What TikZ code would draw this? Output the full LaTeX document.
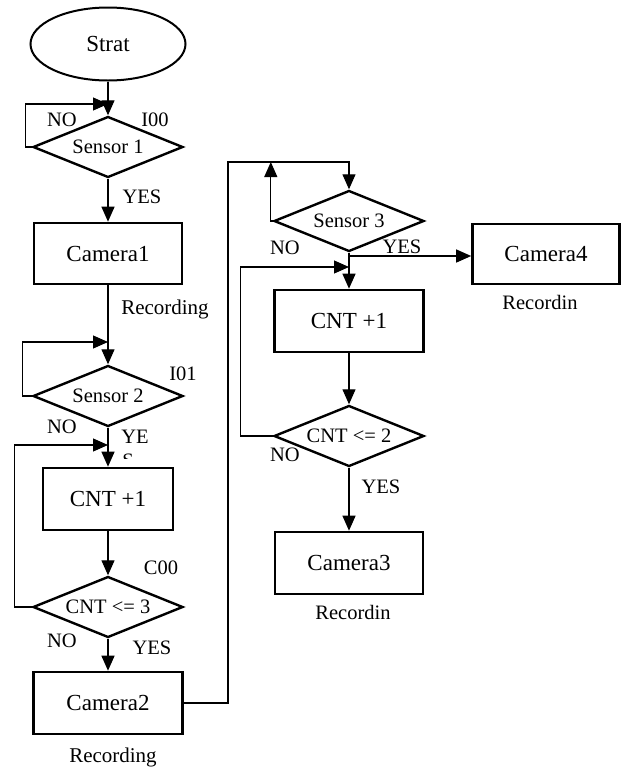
\documentclass[tikz,border=0pt]{standalone}
\usepackage{fontspec}
\setmainfont{Liberation Serif}
\usetikzlibrary{shapes.geometric,arrows.meta,calc}
\begin{document}
\begin{tikzpicture}[x=1pt,y=-1pt,
  arr/.style={line width=1.2pt,-{Triangle[length=15pt,width=13pt]}},
  conn/.style={line width=1.2pt},
  boxnode/.style={draw,line width=2.6pt,rectangle,inner sep=0pt,font=\fontsize{23}{27}\selectfont},
  decnode/.style={draw,line width=2.4pt,diamond,aspect=2.5,inner sep=0pt,minimum width=150pt,minimum height=61pt,font=\fontsize{20.5}{24}\selectfont},
  lbl/.style={inner sep=0pt,font=\fontsize{20.5}{24}\selectfont},
  bigl/.style={inner sep=0pt,font=\fontsize{21}{25}\selectfont}]
\useasboundingbox (0,0) rectangle (621,769);
% nodes
\node[draw,ellipse,line width=2pt,minimum width=155pt,minimum height=73pt,inner sep=0pt,font=\fontsize{23}{27}\selectfont] (start) at (108,44) {Strat};
\node[decnode] (s1) at (108,147) {Sensor 1};
\node[boxnode,minimum width=148pt,minimum height=61pt] (cam1) at (108,253.5) {Camera1};
\node[decnode] (s2) at (108,396) {Sensor 2};
\node[boxnode,minimum width=130pt,minimum height=62pt] (cnt1) at (108,499) {CNT +1};
\node[decnode] (c3) at (108,607) {CNT <= 3};
\node[boxnode,minimum width=149pt,minimum height=62pt] (cam2) at (108,703) {Camera2};
\node[decnode] (s3) at (349,221) {Sensor 3};
\node[boxnode,minimum width=149pt,minimum height=62pt] (cnt2) at (349,321) {CNT +1};
\node[decnode] (c2) at (349,436) {CNT <= 2};
\node[boxnode,minimum width=148pt,minimum height=62pt] (cam3) at (349,563) {Camera3};
\node[boxnode,minimum width=147pt,minimum height=60pt] (cam4) at (546,254) {Camera4};
% coordinates
\coordinate (j1) at (108,104);
\coordinate (j2) at (108,342);
\coordinate (j3) at (108,445);
\coordinate (v1) at (228,703);
\coordinate (top) at (349,162);
\coordinate (j4) at (349,256);
\coordinate (j5) at (349,267);
% connectors
\draw[arr] (start.south) -- (s1.north);
\draw[arr] (s1.west) -- ++(-6,0) |- (j1);
\draw[arr] (s1.south) -- (cam1.north);
\draw[arr] (cam1.south) -- (s2.north);
\draw[arr] (s2.west) -- ++(-9,0) |- (j2);
\draw[arr] (s2.south) -- (cnt1.north);
\draw[arr] (cnt1.south) -- (c3.north);
\draw[arr] (c3.west) -- ++(-17,0) |- (j3);
\draw[arr] (c3.south) -- (cam2.north);
\draw[arr] (cam2.east) -- (v1) |- (top) -- (s3.north);
\draw[arr] (s3.west) -- ++(-2,0) -- ($(s3.west |- top)+(-2,0)$);
\draw[arr] (s3.south) -- (cnt2.north);
\draw[arr] (j4) -- (j4 -| cam4.west);
\draw[arr] (cnt2.south) -- (c2.north);
\draw[arr] (c2.west) -- ++(-32,0) |- (j5);
\draw[arr] (c2.south) -- (cam3.north);
% labels
\node[lbl] (n1) at (62,120) {NO};
\node[lbl] (i00) at (155,120) {I00};
\node[lbl] (y1) at (142,197) {YES};
\node[bigl] (r1) at (165,309) {Recording};
\node[lbl] (i01) at (183,374) {I01};
\node[lbl] (n2) at (62,427) {NO};
\node[lbl] (y2) at (135,437) {YE};
\begin{scope}
\clip (120,440) rectangle (160,458);
\node[lbl] (y2s) at (128,461) {S};
\end{scope}
\node[lbl] (c00) at (161,568) {C00};
\node[lbl] (n3) at (62,641) {NO};
\node[lbl] (y3) at (152,648) {YES};
\node[bigl] (r2) at (113,757) {Recording};
\node[lbl] (n4) at (285,248) {NO};
\node[lbl] (y4) at (402,247) {YES};
\node[lbl] (r4) at (540,302) {Recordin};
\node[lbl] (n5) at (285,455) {NO};
\node[lbl] (y5) at (381,487) {YES};
\node[lbl] (r3) at (353,612) {Recordin};
\end{tikzpicture}
\end{document}
